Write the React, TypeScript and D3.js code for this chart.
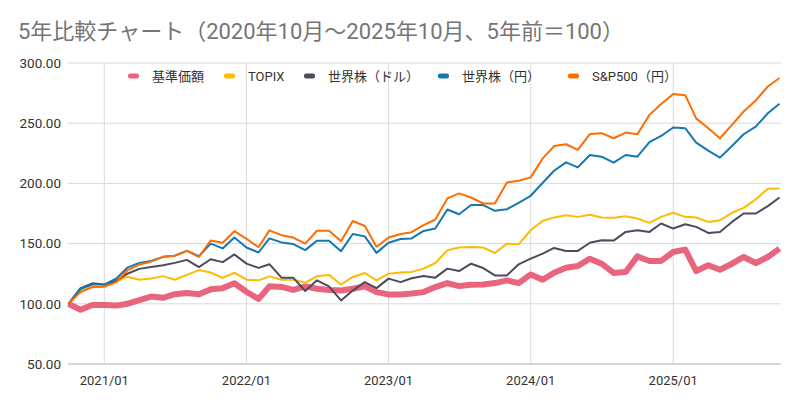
import React from "react";
import * as d3 from "d3";

const startMonth = new Date(2020, 9, 1);
const months = d3.timeMonth.range(startMonth, new Date(2025, 10, 1));

const kijun = [100, 95, 99, 99, 98.5, 100, 103, 106, 105, 108, 109, 108, 112, 113, 117, 110, 104, 114.5, 114, 111.5, 114.5, 112.5, 111.5, 111, 112.5, 114.5, 109.7, 107.8, 107.8, 108.5, 109.7, 113.9, 117.2, 114.7, 115.8, 116.1, 117.2, 119.4, 117.2, 124.4, 120, 125.8, 130, 131.4, 137.5, 133.3, 125.6, 126.4, 139.4, 135.6, 135.6, 143, 145, 127.2, 132, 128.3, 133.3, 138.9, 133.9, 138.9, 145.8];
const topix = [100, 111, 114, 114, 118.5, 122.5, 120, 121, 123, 120, 124, 128, 126, 121.6, 125.8, 120, 119.5, 122.8, 120, 120, 117.5, 122.8, 124, 116, 122.3, 125.6, 119.5, 125, 125.9, 126.5, 129.2, 133.9, 144.4, 146.7, 147.2, 146.7, 142.2, 150, 149.4, 161.1, 168.9, 171.7, 173.6, 172.2, 174, 171.7, 171.4, 172.8, 170.8, 167.2, 172.2, 175.6, 172.2, 171.7, 168, 169.4, 175.6, 179.7, 186.7, 195.6, 195.8];
const worldUsd = [100, 113, 117, 116, 119, 125, 129, 130.5, 132, 134, 136.5, 130.5, 137, 134.6, 141, 133.4, 129.8, 132.9, 121.7, 121.7, 110.6, 119.5, 114.5, 102.8, 111, 118, 113, 120.9, 118, 121.2, 123, 121.7, 129.2, 127.2, 133.3, 129.7, 123.6, 123.6, 132.8, 137.5, 141.7, 146.4, 143.9, 143.9, 150.7, 152.8, 152.5, 159.7, 161.1, 159.7, 166.7, 162.5, 166.1, 163.9, 158.9, 159.7, 168, 175, 175, 181.1, 188.3];
const worldJpy = [100, 112.5, 116, 116, 121, 130, 134, 135.5, 139, 140, 144, 139.5, 150, 146, 155, 146.8, 142.6, 154.3, 151, 149.6, 144.6, 152.4, 152.4, 143.7, 158, 156, 142.3, 150.7, 153.8, 154.3, 160.5, 162.5, 178.3, 174.4, 182, 182, 177.2, 178.6, 183.9, 189.7, 200.5, 210.5, 217.5, 213.3, 223.6, 222.2, 217.2, 223.6, 222.2, 234.2, 239.4, 246.4, 245.8, 233.9, 227.2, 221.4, 231.1, 240.8, 247.2, 258.3, 266.1];
const sp500Jpy = [100, 109.7, 113.8, 114.4, 118, 127.7, 132.7, 135, 139, 140, 144, 139, 152.6, 150.7, 160.3, 154, 147, 161, 157, 155, 150, 160.7, 160.7, 152, 168.8, 164.6, 147.4, 155, 158, 159.5, 165.3, 170, 187.5, 191.7, 188.3, 183.3, 183.3, 200.8, 202.2, 205, 220.8, 231, 232.5, 227.8, 241, 241.7, 237.5, 242.2, 240.8, 256.9, 266, 274.2, 273.3, 254, 245.8, 237.5, 248.6, 259.7, 268.9, 280.5, 287.5];

const seriesNames = ["基準価額", "TOPIX", "世界株（ドル）", "世界株（円）", "S&P500（円）"];
const seriesColors = ["#e8657d", "#fbbc04", "#4c4a5e", "#1377b3", "#ff6d01"];
const seriesWidths = [6, 2, 2, 2, 2];
const seriesValues = [kijun, topix, worldUsd, worldJpy, sp500Jpy];
const yTicks = [50, 100, 150, 200, 250, 300];
const legendX = [128, 224, 304, 438, 568];

const title = "5年比較チャート（2020年10月～2025年10月、5年前＝100）";
const font = "Roboto, 'Noto Sans CJK JP', sans-serif";

export default function App() {
	const x = d3.scaleTime().domain([months[0], months[months.length - 1]]).range([68.5, 779.5]);
	const y = d3.scaleLinear().domain([50, 300]).range([364, 63]);
	const xTicks = d3.timeYear.range(new Date(2021, 0, 1), new Date(2025, 1, 1));
	const fmtY = d3.format(".2f");
	const fmtX = d3.timeFormat("%Y/%m");

	const line = d3
		.line<number>()
		.x((_, i) => x(months[i]))
		.y((d) => y(d));

	return (
		<svg width={800} height={405} style={{ position: "absolute", left: 0, top: 0, background: "#fff" }} fontFamily={font}>
			<text x={18} y={39} fontSize={22} fill="#757575">
				{title}
			</text>

			{yTicks.map((t) => (
				<g key={t}>
					<line x1={68} x2={781} y1={y(t)} y2={y(t)} stroke={t === 50 ? "#c8c8c8" : "#dadada"} strokeWidth={t === 50 ? 1.5 : 1} />
					<text x={61} y={y(t)} dy="0.35em" textAnchor="end" fontSize={13.5} fill="#333">
						{fmtY(t)}
					</text>
				</g>
			))}

			{xTicks.map((t) => (
				<g key={t.getTime()}>
					<line x1={x(t)} x2={x(t)} y1={63} y2={364} stroke="#dadada" strokeWidth={1} />
					<text x={x(t)} y={385} textAnchor="middle" fontSize={13} fill="#333">
						{fmtX(t)}
					</text>
				</g>
			))}

			{seriesValues.map((vals, k) => (
				<path
					key={seriesNames[k]}
					d={line(vals) ?? ""}
					fill="none"
					stroke={seriesColors[k]}
					strokeWidth={seriesWidths[k]}
					strokeLinejoin="round"
				/>
			))}

			{seriesNames.map((name, k) => (
				<g key={name} transform={`translate(${legendX[k]},76)`}>
					<rect x={0} y={-2.5} width={11} height={5} rx={2} fill={seriesColors[k]} />
					<text x={24} y={0} dy="0.35em" fontSize={13} fill="#333">
						{name}
					</text>
				</g>
			))}
		</svg>
	);
}
